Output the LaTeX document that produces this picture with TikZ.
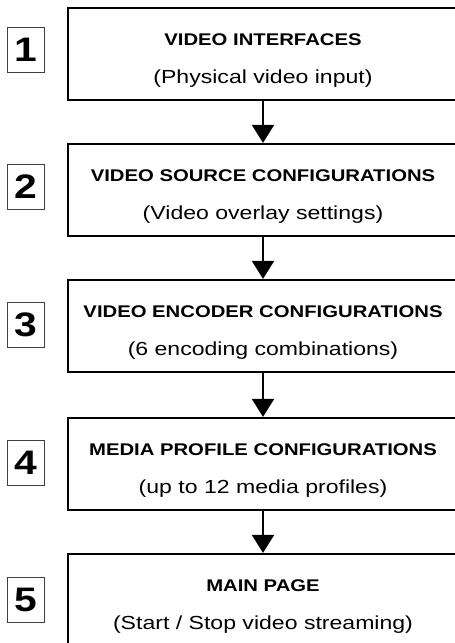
\documentclass[tikz,border=0pt]{standalone}
\usepackage{fontspec}
\setmainfont{Liberation Sans}
\usepackage{graphicx}
\usetikzlibrary{arrows.meta}

% horizontally widened lettering
\newcommand\wide[2][1.23]{\scalebox{#1}[1]{#2}}

\tikzset{
  stage/.style={draw, line width=2.2pt, minimum width=390pt, minimum height=92pt, inner sep=0pt},
  numbox/.style={draw=black!75, line width=0.9pt, minimum width=37pt, minimum height=45pt,
                 inner sep=0pt, font=\fontsize{34}{34}\selectfont\bfseries},
  stitle/.style={font=\fontsize{16.9}{18}\selectfont\bfseries, inner sep=0pt, anchor=base},
  ssub/.style={font=\fontsize{18.9}{20}\selectfont, inner sep=0pt, anchor=base},
  flow/.style={line width=2pt, -{Triangle[width=22pt,length=18pt]}},
}

\begin{document}
\begin{tikzpicture}[x=1pt,y=-1pt]
  \useasboundingbox (0,0) rectangle (455,643);
  \clip (0,0) rectangle (455,643);

  % stage boxes
  \node[stage] (b1) at (263,54)  {};
  \node[stage] (b2) at (263,190) {};
  \node[stage] (b3) at (263,326) {};
  \node[stage] (b4) at (263,464) {};
  \node[stage] (b5) at (263,600) {};

  % step numbers
  \node[numbox] (n1) at (25.5,50)  {\wide[1.2]{1}};
  \node[numbox] (n2) at (25.5,187) {\wide[1.2]{2}};
  \node[numbox] (n3) at (25.5,325) {\wide[1.2]{3}};
  \node[numbox] (n4) at (25.5,463) {\wide[1.2]{4}};
  \node[numbox] (n5) at (25.5,600) {\wide[1.2]{5}};

  % titles and descriptions
  \node[stitle] (t1) at ([yshift=-39pt]b1.north) {\wide[1.2]{VIDEO INTERFACES}};
  \node[ssub]   (s1) at ([yshift=-77pt]b1.north) {\wide[1.22]{(Physical video input)}};
  \node[stitle] (t2) at ([yshift=-39pt]b2.north) {\wide[1.2]{VIDEO SOURCE CONFIGURATIONS}};
  \node[ssub]   (s2) at ([yshift=-77pt]b2.north) {\wide[1.22]{(Video overlay settings)}};
  \node[stitle] (t3) at ([yshift=-39pt]b3.north) {\wide[1.2]{VIDEO ENCODER CONFIGURATIONS}};
  \node[ssub]   (s3) at ([yshift=-77pt]b3.north) {\wide[1.22]{(6 encoding combinations)}};
  \node[stitle] (t4) at ([yshift=-39pt]b4.north) {\wide[1.2]{MEDIA PROFILE CONFIGURATIONS}};
  \node[ssub]   (s4) at ([yshift=-77pt]b4.north) {\wide[1.22]{(up to 12 media profiles)}};
  \node[stitle] (t5) at ([yshift=-39pt]b5.north) {\wide[1.2]{MAIN PAGE}};
  \node[ssub]   (s5) at ([yshift=-77pt]b5.north) {\wide[1.22]{(Start / Stop video streaming)}};

  % flow between stages
  \draw[flow] (b1.south) -- (b2.north);
  \draw[flow] (b2.south) -- (b3.north);
  \draw[flow] (b3.south) -- (b4.north);
  \draw[flow] (b4.south) -- (b5.north);
\end{tikzpicture}
\end{document}
